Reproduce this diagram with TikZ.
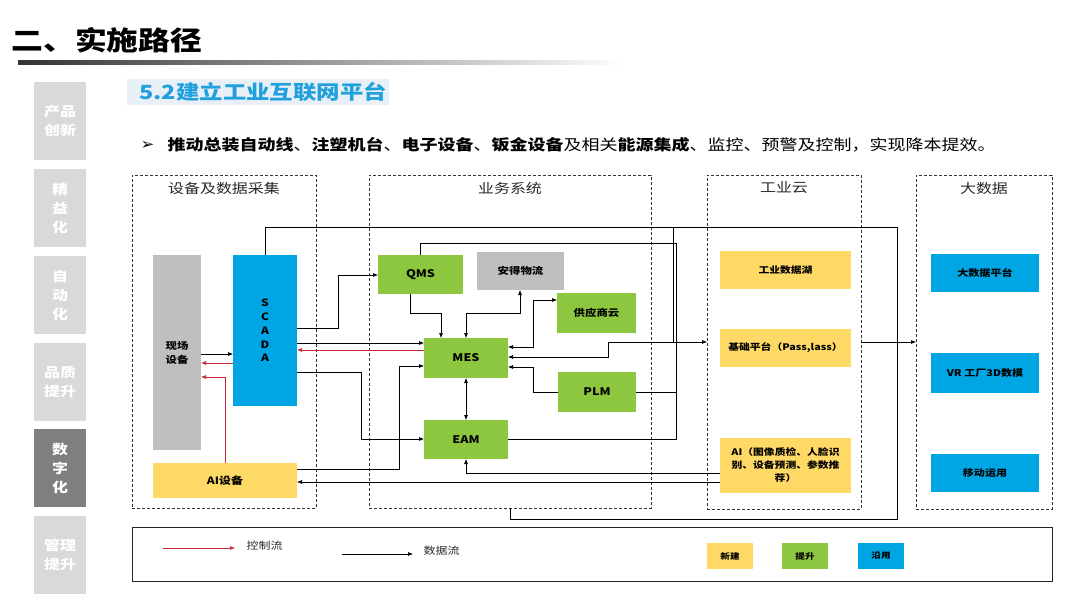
\documentclass[tikz,border=0pt]{standalone}
\usepackage{fontspec}
\setmainfont{Noto Sans CJK SC}[FakeStretch=1.2]
\newfontfamily\symfont{DejaVu Sans}[FakeStretch=1.1]
\usetikzlibrary{arrows.meta}
\definecolor{cgreen}{RGB}{141,198,63}
\definecolor{cyellow}{RGB}{255,217,102}
\definecolor{cblue}{RGB}{0,166,228}
\definecolor{cgray}{RGB}{191,191,191}
\definecolor{cside}{RGB}{217,217,217}
\definecolor{csidedark}{RGB}{127,127,127}
\definecolor{cred}{RGB}{200,40,55}
\definecolor{csub}{RGB}{32,160,220}
\definecolor{csubbg}{RGB}{233,239,246}
\definecolor{ctext}{RGB}{40,40,40}
\tikzset{
  base/.style={inner sep=0pt, outer sep=0pt, anchor=north west, align=center, text=black},
  grn/.style={base, fill=cgreen, font=\bfseries\fontsize{9.5}{12}\selectfont},
  yel/.style={base, fill=cyellow, font=\bfseries\fontsize{9}{13}\selectfont},
  blu/.style={base, fill=cblue, font=\bfseries\fontsize{9.2}{12}\selectfont},
  gry/.style={base, fill=cgray, font=\bfseries\fontsize{9.5}{14}\selectfont},
  grp/.style={base, draw=black!80, line width=0.9pt, dash pattern=on 3pt off 2pt},
  grptitle/.style={font=\fontsize{13.3}{15}\selectfont, text=ctext},
  side/.style={base, fill=cside, text=white, font=\bfseries\fontsize{13.3}{19}\selectfont, minimum width=52pt, minimum height=78pt},
  tip/.style={-{Latex[length=5pt,width=4pt]}},
  dat/.style={draw=black, line width=0.6pt, tip},
  ctl/.style={draw=cred, line width=0.6pt, -{Latex[length=5pt,width=4pt]}},
  bi/.style={draw=black, line width=0.6pt, {Latex[length=5pt,width=4pt]}-{Latex[length=5pt,width=4pt]}},
  ln/.style={draw=black, line width=0.6pt},
  sw/.style={base, font=\bfseries\fontsize{8}{9}\selectfont, minimum width=46pt, minimum height=26pt},
}
\begin{document}
\begin{tikzpicture}[x=1pt,y=-1pt]
\useasboundingbox[fill=white] (0,0) rectangle (1080,608);

% title
\node[anchor=west, font=\bfseries\fontsize{26.5}{30}\selectfont] (title) at (8,40) {二、实施路径};
\shade[left color=black!80, right color=white] (18,60.5) rectangle (625,64);

% sidebar
\node[side] (s1) at (34,82) {产品\\创新};
\node[side] (s2) at (34,169) {精\\益\\化};
\node[side] (s3) at (34,256) {自\\动\\化};
\node[side] (s4) at (34,343) {品质\\提升};
\node[side, fill=csidedark] (s5) at (34,429) {数\\字\\化};
\node[side] (s6) at (34,516) {管理\\提升};

% subtitle
\node[base, fill=csubbg, minimum width=262pt, minimum height=26pt] (subbg) at (127,79) {};
\node[anchor=west, text=csub, font=\bfseries\fontsize{19.5}{24}\selectfont] (sub) at (136,92) {5.2建立工业互联网平台};

% bullet line
\node[anchor=west, font=\symfont\fontsize{15}{17}\selectfont] (arrowbul) at (137,145) {➢};
\node[anchor=west, font=\fontsize{15}{18}\selectfont] (bul) at (164,145) {{\bfseries 推动总装自动线}、{\bfseries 注塑机台}、{\bfseries 电子设备}、{\bfseries 钣金设备}及相关{\bfseries 能源集成}、监控、预警及控制，实现降本提效。};

% groups
\node[grp, minimum width=184pt, minimum height=333pt] (g1) at (132,175) {};
\node[grp, minimum width=282pt, minimum height=333pt] (g2) at (369,175) {};
\node[grp, minimum width=154pt, minimum height=334pt] (g3) at (707,175) {};
\node[grp, minimum width=136pt, minimum height=334pt] (g4) at (916,175) {};
\node[grptitle] (t1) at (224,188) {设备及数据采集};
\node[grptitle] (t2) at (510,188) {业务系统};
\node[grptitle] (t3) at (784,188) {工业云};
\node[grptitle] (t4) at (984,188) {大数据};

% nodes
\node[gry, minimum width=48pt, minimum height=195pt] (xc) at (153,255) {现场\\设备};
\node[blu, minimum width=64pt, minimum height=151pt, font=\bfseries\fontsize{10}{13.8}\selectfont] (scada) at (233,255) {S\\C\\A\\D\\A};
\node[yel, minimum width=144pt, minimum height=35pt, font=\bfseries\fontsize{10}{12}\selectfont] (aidev) at (153,463) {AI设备};
\node[grn, minimum width=85pt, minimum height=39pt, font=\bfseries\fontsize{10.5}{12}\selectfont] (qms) at (378,255) {QMS};
\node[gry, minimum width=87pt, minimum height=38pt] (ande) at (477,252) {安得物流};
\node[grn, minimum width=79pt, minimum height=40pt] (sup) at (557,293) {供应商云};
\node[grn, minimum width=84pt, minimum height=40pt, font=\bfseries\fontsize{10.5}{12}\selectfont] (mes) at (424,338) {MES};
\node[grn, minimum width=78pt, minimum height=40pt, font=\bfseries\fontsize{10.5}{12}\selectfont] (plm) at (558,372) {PLM};
\node[grn, minimum width=84pt, minimum height=39pt, font=\bfseries\fontsize{10.5}{12}\selectfont] (eam) at (424,420) {EAM};
\node[yel, minimum width=131pt, minimum height=38pt] (lake) at (720,251) {工业数据湖};
\node[yel, minimum width=131pt, minimum height=38pt] (basep) at (720,329) {基础平台（Pass,lass）};
\node[yel, minimum width=131pt, minimum height=55pt] (ai) at (720,438) {AI（图像质检、人脸识\\别、设备预测、参数推\\荐）};
\node[blu, minimum width=108pt, minimum height=38pt] (bd) at (931,254) {大数据平台};
\node[blu, minimum width=108pt, minimum height=40pt] (vr) at (931,353) {VR 工厂3D数模};
\node[blu, minimum width=108pt, minimum height=38pt] (mob) at (931,454) {移动运用};

% connectors: left group
\draw[dat] (xc.east |- 0,354) -- (scada.west |- 0,354);
\draw[ctl] (scada.west |- 0,363) -- (xc.east |- 0,363);
\draw[ctl] (aidev.north -| 225,0) |- (xc.east |- 0,377);
\draw[dat] (scada.east |- 0,328) -| (338,275) -- (qms.west |- 0,275);
\draw[dat] (scada.east |- 0,343) -- (mes.west |- 0,343);
\draw[ctl] (mes.west |- 0,350) -- (scada.east |- 0,350);
\draw[dat] (scada.east |- 0,372) -| (361,439) -- (eam.west |- 0,439);
\draw[dat] (aidev.east |- 0,469) -| (399,366) -- (mes.west |- 0,366);
\draw[dat] (ai.west |- 0,482) -- (aidev.east |- 0,482);
\draw[dat] (ai.west |- 0,473) -| (eam.south);

% connectors: business
\draw[dat] (qms.south -| 410,0) |- (441,313) -- (mes.north -| 441,0);
\draw[bi] (mes.north -| 466,0) |- (520,313) -- (ande.south -| 520,0);
\draw[bi] (mes.east |- 0,347) -| (533,300) -- (sup.west |- 0,300);
\draw[bi] (mes.east |- 0,357) -| (608,342) -- (g3.west |- 0,342);
\draw[dat] (plm.west |- 0,392) -| (533,367) -- (mes.east |- 0,367);
\draw[bi] (mes.south) -- (eam.north);

% bus lines
\draw[ln] (scada.north -| 265,0) |- (897,227) |- (510,519) -- (g2.south -| 510,0);
\draw[ln] (673,227) -- (673,342);
\draw[ln] (qms.north -| 420,0) |- (676,243) |- (eam.east |- 0,439);
\draw[ln] (plm.east |- 0,392) -- (676,392);
\draw[dat] (g3.east |- 0,342) -- (g4.west |- 0,342);

% legend
\node[base, draw=black!85, line width=0.9pt, minimum width=920pt, minimum height=54pt] (legend) at (132,527) {};
\coordinate (lr1) at (163,548);
\coordinate (lr2) at (235,548);
\coordinate (lb1) at (342,554);
\coordinate (lb2) at (413,554);
\draw[ctl] (lr1) -- (lr2);
\draw[dat] (lb1) -- (lb2);
\node[anchor=west, font=\fontsize{10}{12}\selectfont, text=ctext] (lctl) at (243,546) {控制流};
\node[anchor=west, font=\fontsize{10}{12}\selectfont, text=ctext] (ldat) at (420,551) {数据流};
\node[sw, fill=cyellow] (swy) at (707,543) {新建};
\node[sw, fill=cgreen] (swg) at (782,543) {提升};
\node[sw, fill=cblue] (swb) at (858,543) {沿用};
\end{tikzpicture}
\end{document}
